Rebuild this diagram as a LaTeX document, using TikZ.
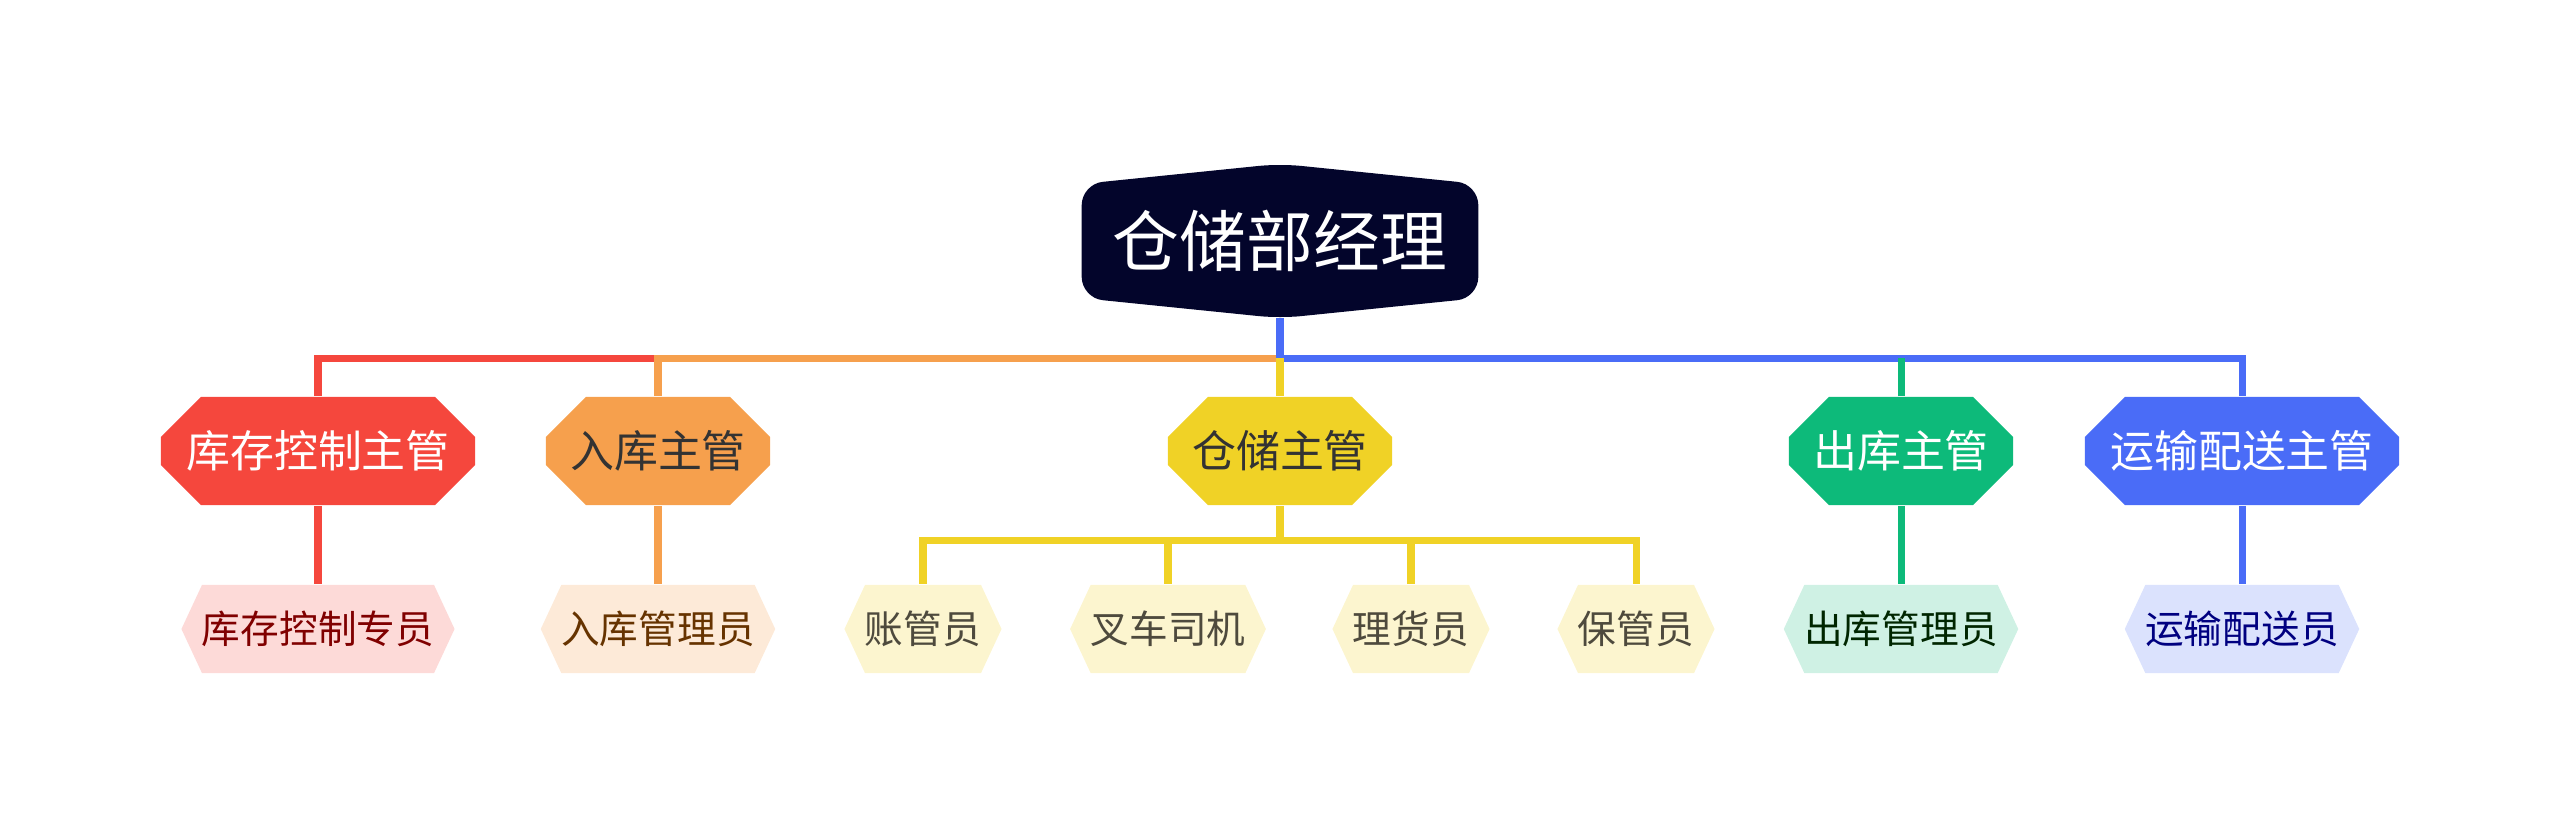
\documentclass[tikz,border=0pt]{standalone}
\usepackage{fontspec}
\setmainfont{Noto Sans CJK SC}
\usetikzlibrary{positioning,calc,backgrounds,shapes.misc,shapes.symbols}
\definecolor{rootc}{HTML}{03052B}
\definecolor{redc}{HTML}{F5473D}
\definecolor{orangec}{HTML}{F6A04D}
\definecolor{yellowc}{HTML}{F0D226}
\definecolor{greenc}{HTML}{0DBA7A}
\definecolor{bluec}{HTML}{4A6CF7}

\begin{document}
\begin{tikzpicture}[
  x=0.01cm, y=-0.01cm,
  head/.style={chamfered rectangle, chamfered rectangle xsep=0.2cm, chamfered rectangle ysep=0.2cm,
               minimum height=1.08cm, inner sep=0pt, font=\fontsize{12.5}{14}\selectfont},
  staff/.style={signal, signal to=east and west, signal pointer angle=130,
                minimum height=0.88cm, inner sep=0pt, font=\fontsize{11}{13}\selectfont},
  link/.style={line width=2pt}
]
\useasboundingbox (0,0) rectangle (2560,838);

% Root
\node[text=white, font=\fontsize{19}{21}\selectfont, minimum width=3.95cm, minimum height=1.53cm,
      inner sep=0pt] (root) at (1280,241) {仓储部经理};
\begin{scope}[on background layer]
\fill[rootc, rounded corners=6pt] ($(root.west)+(0,0.57cm)$) -- ++(0,-1.14cm) -- (root.south)
  -- ($(root.east)+(0,-0.57cm)$) -- ++(0,1.14cm) -- (root.north) -- cycle;
\end{scope}

% Heads
\node[head, fill=redc, text=white, minimum width=3.14cm] (kc) at (318,451) {库存控制主管};
\node[head, fill=orangec, text=black!80, minimum width=2.24cm] (rk) at (658,451) {入库主管};
\node[head, fill=yellowc, text=black!80, minimum width=2.24cm] (cc) at (1280,451) {仓储主管};
\node[head, fill=greenc, text=white, minimum width=2.24cm] (ck) at (1901,451) {出库主管};
\node[head, fill=bluec, text=white, minimum width=3.14cm] (ys) at (2242,451) {运输配送主管};

% Staff
\node[staff, fill=redc!20, text=red!50!black, minimum width=2.68cm] (kcy) at (318,629) {库存控制专员};
\node[staff, fill=orangec!22, text=orange!40!black, minimum width=2.30cm] (rky) at (658,629) {入库管理员};
\node[staff, fill=yellowc!22, text=yellow!20!black, minimum width=1.52cm] (zg) at (923,629) {账管员};
\node[staff, fill=yellowc!22, text=yellow!20!black, minimum width=1.88cm] (cs) at (1168,629) {叉车司机};
\node[staff, fill=yellowc!22, text=yellow!20!black, minimum width=1.52cm] (lh) at (1411,629) {理货员};
\node[staff, fill=yellowc!22, text=yellow!20!black, minimum width=1.54cm] (bg) at (1636,629) {保管员};
\node[staff, fill=greenc!20, text=green!15!black, minimum width=2.30cm] (cky) at (1901,629) {出库管理员};
\node[staff, fill=bluec!20, text=blue!50!black, minimum width=2.30cm] (ysy) at (2242,629) {运输配送员};

% Links
\coordinate (bar) at (1280,358);
\coordinate (sub) at (1280,540);
\draw[link, redc] (bar) -| (kc.north);
\draw[link, orangec] (bar) -| (rk.north);
\draw[link, bluec] (root.south) -- (bar) -| (ys.north);
\draw[link, greenc] (ck.north) -- (ck.north |- bar);
\draw[link, yellowc] (bar) -- (cc.north);
\draw[link, redc] (kc.south) -- (kcy.north);
\draw[link, orangec] (rk.south) -- (rky.north);
\draw[link, greenc] (ck.south) -- (cky.north);
\draw[link, bluec] (ys.south) -- (ysy.north);
\draw[link, yellowc] (cc.south) -- (sub);
\foreach \s in {zg,cs,lh,bg}
  \draw[link, yellowc] (sub) -| (\s.north);
\end{tikzpicture}
\end{document}
